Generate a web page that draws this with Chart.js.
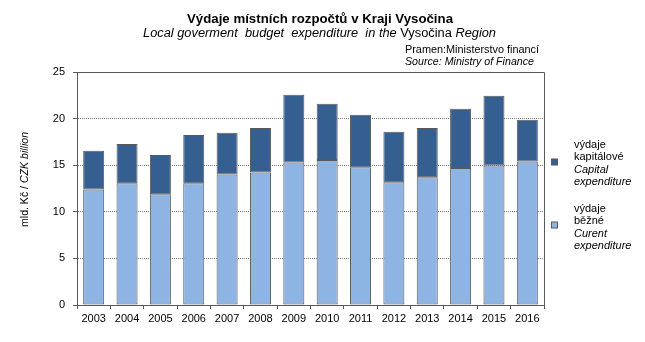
<!DOCTYPE html>
<html>
<head>
<meta charset="utf-8">
<script src="https://cdn.jsdelivr.net/npm/chart.js@4/dist/chart.umd.min.js"></script>
<style>
  html, body { margin: 0; padding: 0; background: #fff; }
  canvas { display: block; }
</style>
</head>
<body>
<canvas id="chart" width="645" height="342"></canvas>
<script>
// Local government budget expenditure, CZK billion
const years = ['2003', '2004', '2005', '2006', '2007', '2008', '2009',
               '2010', '2011', '2012', '2013', '2014', '2015', '2016'];
const currentExp = [12.40, 13.05, 11.87, 13.05, 14.01, 14.23, 15.30,
                    15.55, 14.77, 13.16, 13.70, 14.70, 14.98, 15.41];
const capitalExp = [4.16, 4.22, 4.22, 5.19, 4.48, 4.76, 7.26,
                    6.05, 5.65, 5.44, 5.29, 6.36, 7.48, 4.47];
const yTicks = [0, 5, 10, 15, 20, 25];

const FONT = '"Liberation Sans", Arial, sans-serif';
const DARK = '#365F91';
const LIGHT = '#8EB4E3';
const LINE = '#595959';

// draw a run of differently styled text squeezed into a given width
function drawRun(ctx, parts, x, y, width) {
  let total = 0;
  parts.forEach(p => { ctx.font = p.font; total += ctx.measureText(p.text).width; });
  const s = width ? width / total : 1;
  ctx.save();
  ctx.translate(x, y);
  ctx.scale(s, 1);
  ctx.textBaseline = 'middle';
  ctx.textAlign = 'left';
  ctx.fillStyle = '#000';
  let cx = 0;
  parts.forEach(p => {
    ctx.font = p.font;
    ctx.fillText(p.text, cx, 0);
    cx += ctx.measureText(p.text).width;
  });
  ctx.restore();
}

const reg = '11px ' + FONT;
const ita = 'italic 11px ' + FONT;

const decorations = {
  id: 'decorations',
  afterDraw(chart) {
    const ctx = chart.ctx;
    const a = chart.chartArea;

    // frame on top and right
    ctx.save();
    ctx.strokeStyle = LINE;
    ctx.lineWidth = 1;
    ctx.beginPath();
    ctx.moveTo(a.left, Math.round(a.top) + 0.5);
    ctx.lineTo(Math.round(a.right) + 0.5, Math.round(a.top) + 0.5);
    ctx.lineTo(Math.round(a.right) + 0.5, a.bottom);
    ctx.stroke();
    ctx.restore();

    // titles
    drawRun(ctx, [{ text: 'Výdaje místních rozpočtů v Kraji Vysočina', font: 'bold 13px ' + FONT }], 187, 19, 266);
    drawRun(ctx, [
      { text: 'Local goverment  budget  expenditure  in the ', font: 'italic 12px ' + FONT },
      { text: 'Vysočina', font: '12px ' + FONT },
      { text: ' Region', font: 'italic 12px ' + FONT }
    ], 143, 34, 353);
    drawRun(ctx, [{ text: 'Pramen:Ministerstvo financí', font: reg }], 405, 50, 134);
    drawRun(ctx, [{ text: 'Source: Ministry of Finance', font: ita }], 405, 62, 129);

    // y axis title
    ctx.save();
    ctx.translate(25, 180);
    ctx.rotate(-Math.PI / 2);
    drawRun(ctx, [
      { text: 'mld. Kč / ', font: reg },
      { text: 'CZK billion', font: ita }
    ], -47, 0, 95);
    ctx.restore();

    // legend
    const items = [
      { color: DARK, y: 162, lines: [['výdaje', reg], ['kapitálové', reg], ['Capital', ita], ['expenditure', ita]], ty: 145 },
      { color: LIGHT, y: 225, lines: [['výdaje', reg], ['běžné', reg], ['Curent', ita], ['expenditure', ita]], ty: 209 }
    ];
    items.forEach(it => {
      ctx.fillStyle = it.color;
      ctx.fillRect(551.5, it.y - 3, 6, 6);
      ctx.strokeStyle = LINE;
      ctx.lineWidth = 1;
      ctx.strokeRect(551.5, it.y - 3, 6, 6);
      const gaps = [0, 11.5, 24.5, 36.5];
      it.lines.forEach((l, i) => drawRun(ctx, [{ text: l[0], font: l[1] }], 574, it.ty + gaps[i]));
    });
  }
};

new Chart(document.getElementById('chart'), {
  type: 'bar',
  data: {
    labels: years,
    datasets: [
      {
        label: 'výdaje běžné',
        data: currentExp,
        backgroundColor: LIGHT,
        borderColor: LINE,
        borderWidth: 1,
        borderSkipped: false,
        barPercentage: 0.63,
        categoryPercentage: 1
      },
      {
        label: 'výdaje kapitálové',
        data: capitalExp,
        backgroundColor: DARK,
        borderColor: LINE,
        borderWidth: 1,
        borderSkipped: false,
        barPercentage: 0.63,
        categoryPercentage: 1
      }
    ]
  },
  options: {
    responsive: false,
    animation: false,
    devicePixelRatio: 1,
    layout: { padding: { top: 72, right: 101, left: 0, bottom: 0 } },
    scales: {
      x: {
        stacked: true,
        offset: true,
        afterFit: s => { s.height = 37; },
        grid: {
          offset: true,
          drawOnChartArea: false,
          tickLength: 4,
          tickColor: LINE
        },
        border: { color: LINE, width: 1 },
        ticks: {
          color: '#000',
          font: { family: FONT, size: 11 },
          padding: 3,
          maxRotation: 0
        }
      },
      y: {
        stacked: true,
        min: 0,
        max: 25,
        afterFit: s => { s.width = 77; },
        afterBuildTicks: s => { s.ticks = yTicks.map(v => ({ value: v })); },
        grid: {
          color: '#808080',
          lineWidth: 1,
          tickLength: 4,
          tickColor: LINE,
          tickBorderDash: []
        },
        border: { color: LINE, width: 1, dash: [1, 1] },
        ticks: {
          color: '#000',
          font: { family: FONT, size: 11 },
          padding: 8
        }
      }
    },
    plugins: {
      legend: { display: false },
      tooltip: { enabled: false },
      title: { display: false }
    }
  },
  plugins: [decorations]
});
</script>
</body>
</html>
